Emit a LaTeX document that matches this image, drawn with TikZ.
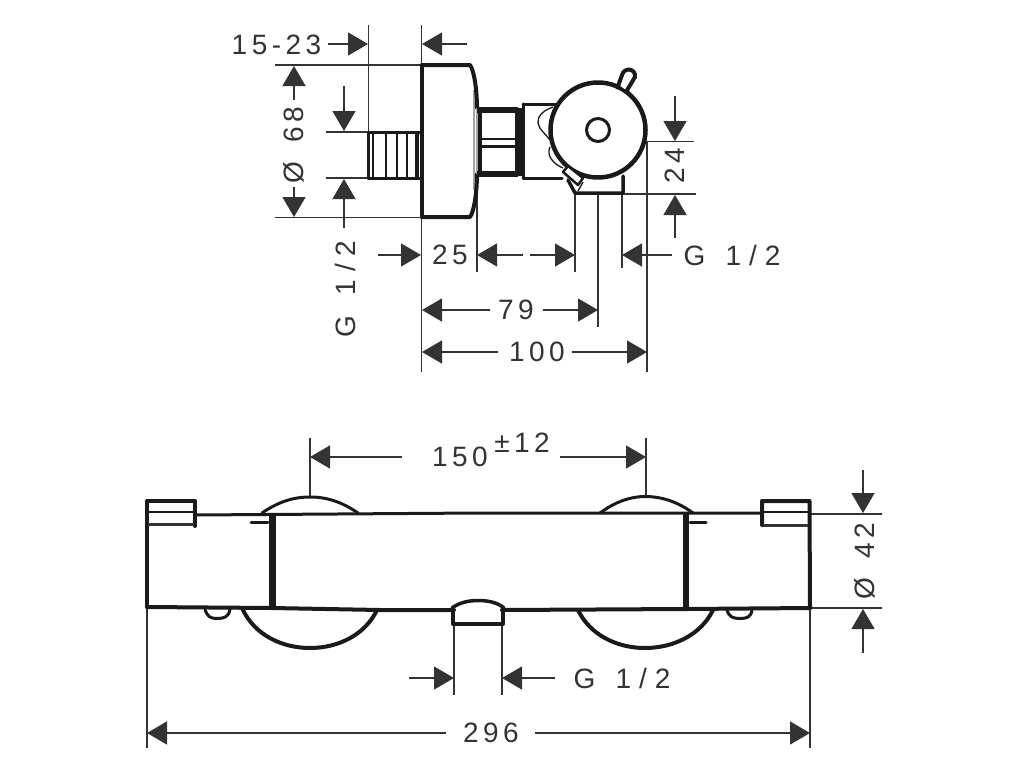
\documentclass[tikz,border=0pt]{standalone}
\usepackage{fontspec}
\usetikzlibrary{arrows.meta}
\newfontfamily\dimf[LetterSpace=16]{Liberation Sans}
\definecolor{ink}{HTML}{1A1A1A}
\definecolor{dimc}{HTML}{333333}
\newcommand{\gthread}{G\hspace{8pt} 1\hspace{8pt}/\hspace{8pt}2}
\tikzset{
  x=1pt,y=-1pt,
  ext/.style={draw=dimc,line width=1.2pt},
  dimarrow/.style={draw=dimc,line width=1.3pt,-{Triangle[length=20pt,width=23pt,fill=dimc]}},
  thick body/.style={draw=ink,line width=4pt,line join=round,line cap=round},
  mid body/.style={draw=ink,line width=3pt,line join=round,line cap=round},
  thin body/.style={draw=ink,line width=1.3pt},
  lab/.style={text=dimc,font=\fontsize{28}{28}\selectfont\dimf,inner sep=0pt,anchor=center},
  labv/.style={lab,rotate=90},
}
\begin{document}
\begin{tikzpicture}
\useasboundingbox (0,0) rectangle (1024,768);
\fill[white] (0,0) rectangle (1024,768);

%% ---------- side view: extension lines
\draw[ext] (368.5,25) -- (368.5,132);
\draw[ext] (421.5,25) -- (421.5,65);
\draw[ext] (421.5,217) -- (421.5,372);
\draw[ext] (275,65) -- (421,65);
\draw[ext] (275,217.5) -- (421,217.5);
\draw[ext] (326,132) -- (367,132);
\draw[ext] (326,178) -- (367,178);
\draw[ext] (477,178) -- (477,272);
\draw[ext] (575,193) -- (575,272);
\draw[ext] (598,193) -- (598,327);
\draw[ext] (622,193) -- (622,268);
\draw[ext] (647,141) -- (647,372);
\draw[ext] (648,141.5) -- (694,141.5);
\draw[ext] (623,194) -- (696,194);

%% ---------- side view: wall part
\draw[mid body] (368,132) -- (421,132);
\draw[mid body] (368,178) -- (421,178);
\draw[mid body] (368.5,132) -- (368.5,178);
\foreach \tx/\tw in {373/2.5,386/1.5,397/1.5,407/1.5,417/4}
  \draw[draw=ink,line width=\tw pt] (\tx,132) -- (\tx,178);
\draw[draw=gray!70,line width=2.5pt] (474,90) -- (474,190);
\draw[thick body] (422,65) -- (470,65) .. controls (474,70) and (477,90) .. (477,108);
\draw[thick body] (477,174) .. controls (477,192) and (474,212) .. (470,217) -- (422,217);
\draw[thick body] (422,65) -- (422,217);
\draw[draw=gray!70,line width=1.5pt] (477,108) -- (477,174);

%% nut
\draw[draw=ink,line width=6pt] (477,110) -- (518,110);
\draw[draw=ink,line width=6pt] (477,174) -- (518,174);
\draw[draw=ink,line width=8pt] (519,108) -- (519,176);
\draw[draw=ink,line width=4pt] (480,112) -- (480,172);
\draw[draw=ink,line width=2.5pt] (480,139) -- (516,139);
\draw[draw=ink,line width=2.5pt] (480,146.5) -- (516,146.5);

%% valve body
\draw[mid body] (523,104) -- (556,104);
\draw[mid body] (523,178) -- (562,178);
\draw[mid body] (523,104) -- (523,178);
\draw[thin body] (553,107) .. controls (544,110) and (537,116) .. (538,123) .. controls (539,130) and (546,134) .. (550,140);
\draw[thin body] (550,147) .. controls (546,155) and (553,164) .. (563,168);

%% foot
\draw[mid body,line width=3.5pt] (568,180) -- (575,193) -- (623,193) -- (623,176);

%% dial and knob
\draw[thick body,fill=white,line width=4.5pt] (598,130) circle[radius=47.5];
\fill[white] (619,85) -- (626,90) -- (633,78) -- (625,73) -- cycle;
\draw[thick body] (617.5,87.5) -- (622,75) .. controls (624,67) and (636,68) .. (635,77) -- (626,92);
\draw[thick body,line width=3pt,fill=white] (598,130) circle[radius=11.5];

\draw[mid body,fill=white,line width=2.5pt] (563,172) -- (568,166) -- (583,178) -- (578,185) -- cycle;
\draw[thin body] (583,182) -- (578,191);

%% ---------- side view: dimensions
\draw[dimarrow] (328,44) -- (368,44);
\draw[dimarrow] (467,44) -- (422,44);
\node[lab] (t1523) at (276.5,45) {15-23};

\draw[dimarrow] (294,100) -- (294,66);
\draw[dimarrow] (294,187) -- (294,217);
\node[labv] (t68) at (294,145) {Ø\hspace{7pt} 68};

\draw[dimarrow] (344,86) -- (344,131);
\draw[dimarrow] (344,228) -- (344,179);
\node[labv] (tg1) at (345,289) {\gthread};

\draw[dimarrow] (675,96) -- (675,141);
\draw[dimarrow] (675,238) -- (675,195);
\node[labv] (t24) at (675,166) {24};

\draw[dimarrow] (378,255) -- (421,255);
\node[lab] (t25) at (450,255) {25};
\draw[dimarrow] (523,255) -- (477,255);
\draw[dimarrow] (530,255) -- (575,255);
\draw[dimarrow] (672,255) -- (622,255);
\node[lab] (tg2) at (732,255) {\gthread};

\draw[dimarrow] (490,310) -- (422,310);
\node[lab] (t79) at (516,310) {79};
\draw[dimarrow] (543,310) -- (598,310);

\draw[dimarrow] (498,352) -- (422,352);
\node[lab] (t100) at (537,352) {100};
\draw[dimarrow] (572,352) -- (647,352);

%% ---------- front view: extension lines
\draw[ext] (310,438) -- (310,497);
\draw[ext] (646,438) -- (646,497);
\draw[ext] (810,514) -- (882,514);
\draw[ext] (810,608) -- (882,608);
\draw[ext] (147,608) -- (147,748);
\draw[ext] (810,608) -- (810,748);
\draw[ext] (454,624) -- (454,695);
\draw[ext] (502,624) -- (502,695);

%% ---------- front view: body
\draw[mid body] (262,513) .. controls (278,502) and (293,497) .. (310,497) .. controls (327,497) and (342,502) .. (358,513);
\draw[mid body] (600,513) .. controls (615,502) and (630,496.5) .. (645,496.5) .. controls (662,496.5) and (678,502) .. (693,513);
\draw[thick body] (243,610) .. controls (255,635) and (282,648) .. (310,648) .. controls (338,648) and (365,635) .. (377,610);
\draw[thick body] (578,610) .. controls (590,635) and (617,648) .. (645,648) .. controls (673,648) and (701,635) .. (713,610);
\draw[mid body] (205,609) .. controls (207,617) and (211,618.5) .. (217,618.5) .. controls (224,618.5) and (229,617) .. (230,609);
\draw[mid body] (727,610) .. controls (729,617) and (733,618.5) .. (740,618.5) .. controls (747,618.5) and (751,617) .. (752,610);
\draw[mid body] (195,515) -- (478,513) -- (762,513);
\draw[thick body] (147,607) -- (272,608) -- (380,610) -- (454,610);
\draw[thick body] (502,610) -- (686,609) -- (810,608);
\draw[thick body] (147,607) -- (147,501) -- (195,501) -- (195,526);
\draw[draw=ink,line width=1.8pt] (148,512) -- (195,512);
\draw[draw=dimc,line width=3pt] (148,524.5) -- (194,524.5);
\draw[draw=ink,line width=7pt] (272,514) -- (272,608);
\draw[mid body] (251,522) -- (268,522);
\draw[draw=ink,line width=6.5pt] (686,513) -- (686,608);
\draw[mid body] (690,522) -- (706,522);
\draw[thick body] (810,608) -- (809.5,501) -- (762,501) -- (762,525);
\draw[draw=ink,line width=1.8pt] (763,512) -- (809,512);
\draw[draw=dimc,line width=3pt] (763,525) -- (808,525);
\draw[thick body] (453,609) -- (453,624) -- (503,624) -- (503,609);
\draw[thick body,line width=3.5pt] (452,608) .. controls (460,602) and (470,600.5) .. (478,600.5) .. controls (487,600.5) and (497,602) .. (504,608);

%% ---------- front view: dimensions
\draw[dimarrow] (402,457) -- (310,457);
\draw[dimarrow] (560,457) -- (646,457);
\node[lab] (t150) at (460,457) {150};
\node[lab] (t12) at (522,443) {±12};

\draw[dimarrow] (863,470) -- (863,513);
\draw[dimarrow] (863,653) -- (863,609);
\node[labv] (t42) at (865,561) {Ø\hspace{7pt} 42};

\draw[dimarrow] (409,678) -- (454,678);
\draw[dimarrow] (555,678) -- (502,678);
\node[lab] (tg3) at (622,678) {\gthread};

\draw[dimarrow] (446,733) -- (147,733);
\draw[dimarrow] (535,733) -- (810,733);
\node[lab] (t296) at (491,733) {296};
\end{tikzpicture}
\end{document}
